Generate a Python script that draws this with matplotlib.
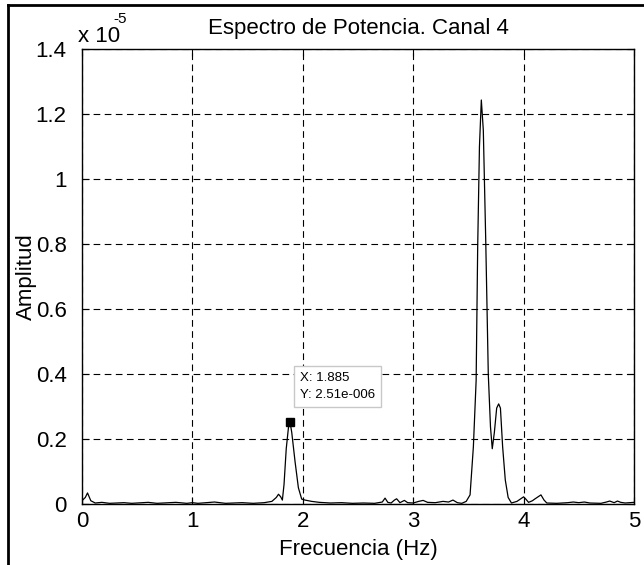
import matplotlib
matplotlib.use("Agg")
import matplotlib.pyplot as plt
from matplotlib.lines import Line2D

plt.rcParams['font.family'] = ['Liberation Sans', 'DejaVu Sans']

# power spectrum, channel 4 (amplitude in units of 1e-5)
freq = [0.00, 0.03, 0.05, 0.08, 0.12, 0.18, 0.25, 0.38, 0.45, 0.60, 0.68, 0.85,
        0.95, 1.00, 1.05, 1.20, 1.30, 1.45, 1.55, 1.65, 1.72, 1.76, 1.78, 1.80,
        1.815, 1.83, 1.85, 1.87, 1.885, 1.90, 1.93, 1.96, 1.99, 2.02, 2.08, 2.15,
        2.25, 2.35, 2.45, 2.55, 2.65, 2.72, 2.745, 2.77, 2.80, 2.83, 2.85, 2.88,
        2.92, 2.95, 3.00, 3.05, 3.09, 3.13, 3.20, 3.27, 3.32, 3.36, 3.40, 3.44,
        3.48, 3.515, 3.545, 3.57, 3.584, 3.60, 3.617, 3.635, 3.657, 3.68, 3.70,
        3.716, 3.735, 3.756, 3.774, 3.79, 3.81, 3.834, 3.86, 3.89, 3.94, 3.97,
        4.00, 4.02, 4.045, 4.08, 4.10, 4.157, 4.185, 4.21, 4.30, 4.40, 4.45,
        4.50, 4.55, 4.60, 4.70, 4.75, 4.78, 4.82, 4.85, 4.88, 4.92, 5.00]
amp = [0.010, 0.020, 0.034, 0.010, 0.003, 0.005, 0.002, 0.004, 0.002, 0.005, 0.002, 0.005,
       0.002, 0.004, 0.002, 0.006, 0.002, 0.004, 0.002, 0.004, 0.008, 0.020, 0.030, 0.022,
       0.012, 0.060, 0.170, 0.235, 0.251, 0.220, 0.130, 0.050, 0.015, 0.012, 0.008, 0.005,
       0.003, 0.004, 0.002, 0.003, 0.002, 0.006, 0.018, 0.005, 0.003, 0.012, 0.016, 0.004,
       0.011, 0.004, 0.003, 0.008, 0.011, 0.005, 0.004, 0.008, 0.006, 0.012, 0.004, 0.002,
       0.008, 0.028, 0.176, 0.380, 0.790, 1.100, 1.243, 1.150, 0.810, 0.400, 0.237,
       0.170, 0.220, 0.295, 0.308, 0.295, 0.176, 0.074, 0.020, 0.003, 0.008, 0.015,
       0.022, 0.015, 0.005, 0.010, 0.015, 0.028, 0.012, 0.003, 0.002, 0.004, 0.006,
       0.004, 0.006, 0.003, 0.002, 0.006, 0.009, 0.004, 0.009, 0.005, 0.003, 0.005]

tip_x = 1.885
tip_y = 0.251
xticks = [0, 1, 2, 3, 4, 5]
yticks = [0, 0.2, 0.4, 0.6, 0.8, 1.0, 1.2, 1.4]
ytick_labels = ['0', '0.2', '0.4', '0.6', '0.8', '1', '1.2', '1.4']

fig = plt.figure(figsize=(6.44, 5.65), dpi=100)
ax = fig.add_axes([0.1273, 0.108, 0.8572, 0.8053])

ax.plot(freq, amp, color='black', lw=0.9)
ax.plot([tip_x], [tip_y], 's', color='black', ms=6)

ax.set_xlim(0, 5)
ax.set_ylim(0, 1.4)
ax.set_xticks(xticks)
ax.set_yticks(yticks)
ax.set_yticklabels(ytick_labels)
ax.tick_params(direction='in', length=5, labelsize=16, top=True, right=True)
ax.tick_params(axis='y', pad=11)
ax.tick_params(axis='x', pad=5)
ax.grid(True, color='black', linestyle=(0, (6, 4)), lw=0.8)
for s in ax.spines.values():
    s.set_linewidth(1.0)

ax.set_title('Espectro de Potencia. Canal 4', fontsize=16, pad=11)
ax.set_xlabel('Frecuencia (Hz)', fontsize=16, labelpad=5)
ax.set_ylabel('Amplitud', fontsize=16, labelpad=-1)

# exponent label, MATLAB style
ax.text(-0.008, 1.004, 'x 10', transform=ax.transAxes, fontsize=16, ha='left', va='bottom')
ax.text(0.056, 1.05, '-5', transform=ax.transAxes, fontsize=11, ha='left', va='bottom')

# data tip
ax.text(tip_x + 0.09, 0.362, 'X: 1.885\nY: 2.51e-006', fontsize=9.5, ha='left', va='center',
        linespacing=1.5,
        bbox=dict(boxstyle='square,pad=0.45', fc='white', ec='#c8c8c8', lw=1))

# frame around the figure (top and left edges visible)
fig.add_artist(Line2D([8/644, 1.0], [1 - 5/565, 1 - 5/565], color='black', lw=2,
                      transform=fig.transFigure))
fig.add_artist(Line2D([8/644, 8/644], [0.0, 1 - 5/565], color='black', lw=2,
                      transform=fig.transFigure))

fig.savefig('out.png', dpi=100)
